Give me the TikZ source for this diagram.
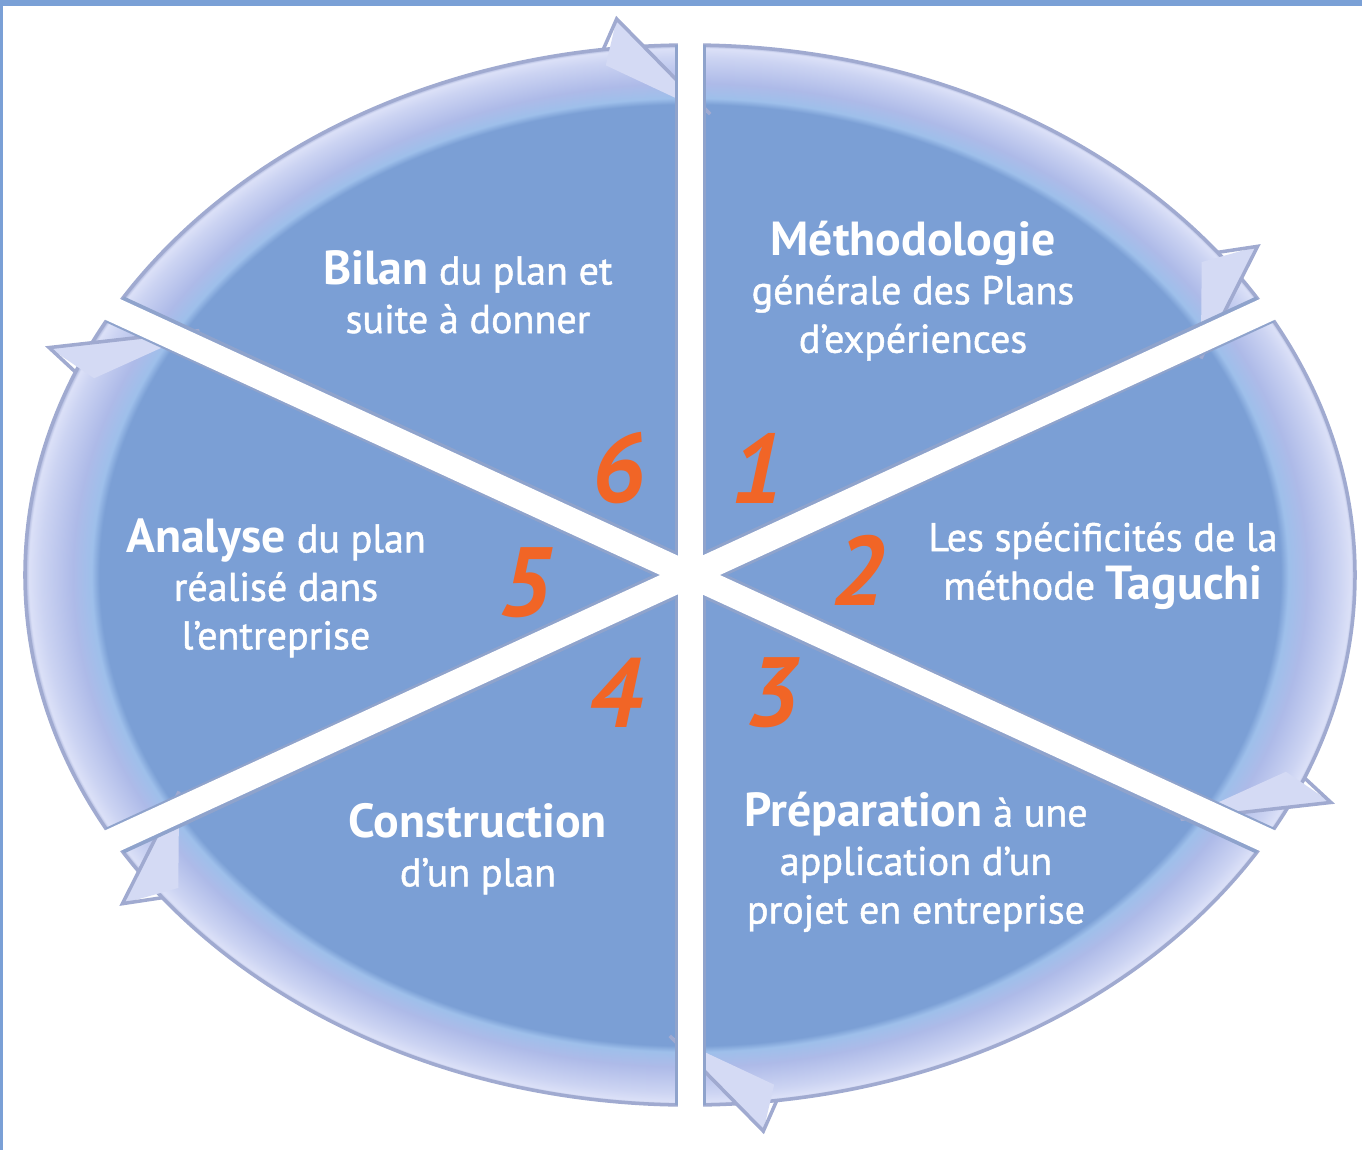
\documentclass[tikz,border=0pt]{standalone}
\usepackage{fontspec}
\setmainfont{PT Sans}
\newfontfamily\semib{PT Sans}[FakeBold=1.2]

\definecolor{sectblue}{RGB}{123,159,213}
\definecolor{rimlight}{RGB}{212,218,244}
\definecolor{rimedge}{RGB}{160,170,208}
\definecolor{gapedge}{RGB}{143,163,204}
\definecolor{numorange}{RGB}{241,101,38}
\definecolor{frameblue}{RGB}{122,160,214}

% elliptical band: plain fill inside, lighter rim at the border
\pgfdeclareradialshading{rimshade}{\pgfpoint{0bp}{0bp}}{%
  rgb(0bp)=(0.482,0.624,0.835);
  rgb(22.2bp)=(0.482,0.624,0.835);
  rgb(22.5bp)=(0.62,0.75,0.92);
  rgb(23.2bp)=(0.68,0.73,0.91);
  rgb(24.4bp)=(0.80,0.83,0.95);
  rgb(24.85bp)=(0.86,0.88,0.97);
  rgb(25bp)=(0.64,0.68,0.84);
  rgb(50bp)=(0.64,0.68,0.84)}

\newcommand\hd[1]{{\normalfont\fontsize{13.6}{14}\selectfont\bfseries #1}}

\begin{document}
\begin{tikzpicture}[x=0.1mm,y=0.1mm,
    lbl/.style={text=white,align=center,inner sep=0pt,font=\semib\fontsize{11.4}{13.8}\selectfont},
    num/.style={text=numorange,inner sep=0pt,font=\fontsize{28}{28}\selectfont\bfseries\itshape}]
\useasboundingbox (-690,-575) rectangle (672,575);

% the disc with its rim
\shade[shading=rimshade] (0,0) ellipse [x radius=665, y radius=530];
\draw[rimedge, line width=1pt] (0,0) ellipse [x radius=665, y radius=530];

% arrow heads at the end of each part
\foreach \e in {90,30,-30,-90,-150,150} {
  \fill[rimlight] (\e+6:{1.055*665} and {1.055*530}) -- (\e-2:{0.87*665} and {0.87*530})
    -- (\e+7.5:{0.97*665} and {0.97*530}) -- cycle;
  \draw[rimedge, line width=1pt] (\e+7.5:665 and 530) -- (\e+6:{1.055*665} and {1.055*530})
    -- (\e-2:{0.87*665} and {0.87*530});
}

% gaps between the parts
\begin{scope}
  \clip (0,0) ellipse [x radius=665, y radius=530];
  \foreach \a in {90,30,-30}
    \draw[gapedge, line width=3.1mm] (\a:700 and 560) -- (\a+180:700 and 560);
\end{scope}
\foreach \a in {90,30,-30}
  \draw[white, line width=2.5mm] (\a:{1.08*665} and {1.08*530}) -- (\a+180:{1.08*665} and {1.08*530});

% frame
\fill[frameblue] (-690,575) rectangle (672,569);
\fill[frameblue] (-690,-575) rectangle (-687,575);

% texts
\node[lbl] (t1) at (223,284) {\hd{Méthodologie}\\générale des Plans\\d’expériences};
\node[lbl] (t2) at (413,9) {Les spécificités de la\\méthode \hd{Taguchi}};
\node[lbl] (t3) at (226,-287) {\hd{Préparation} à une\\application d’un\\projet en entreprise};
\node[lbl] (t4) at (-212,-274) {\hd{Construction}\\d’un plan};
\node[lbl] (t5) at (-414,-13) {\hd{Analyse} du plan\\réalisé dans\\l’entreprise};
\node[lbl] (t6) at (-222,283) {\hd{Bilan} du plan et\\suite à donner};

% numbers
\node[num] (n1) at (67,107) {1};
\node[num] (n2) at (168,5) {2};
\node[num] (n3) at (82,-118) {3};
\node[num] (n4) at (-75,-118) {4};
\node[num] (n5) at (-165,-8) {5};
\node[num] (n6) at (-72,107) {6};
\end{tikzpicture}
\end{document}
